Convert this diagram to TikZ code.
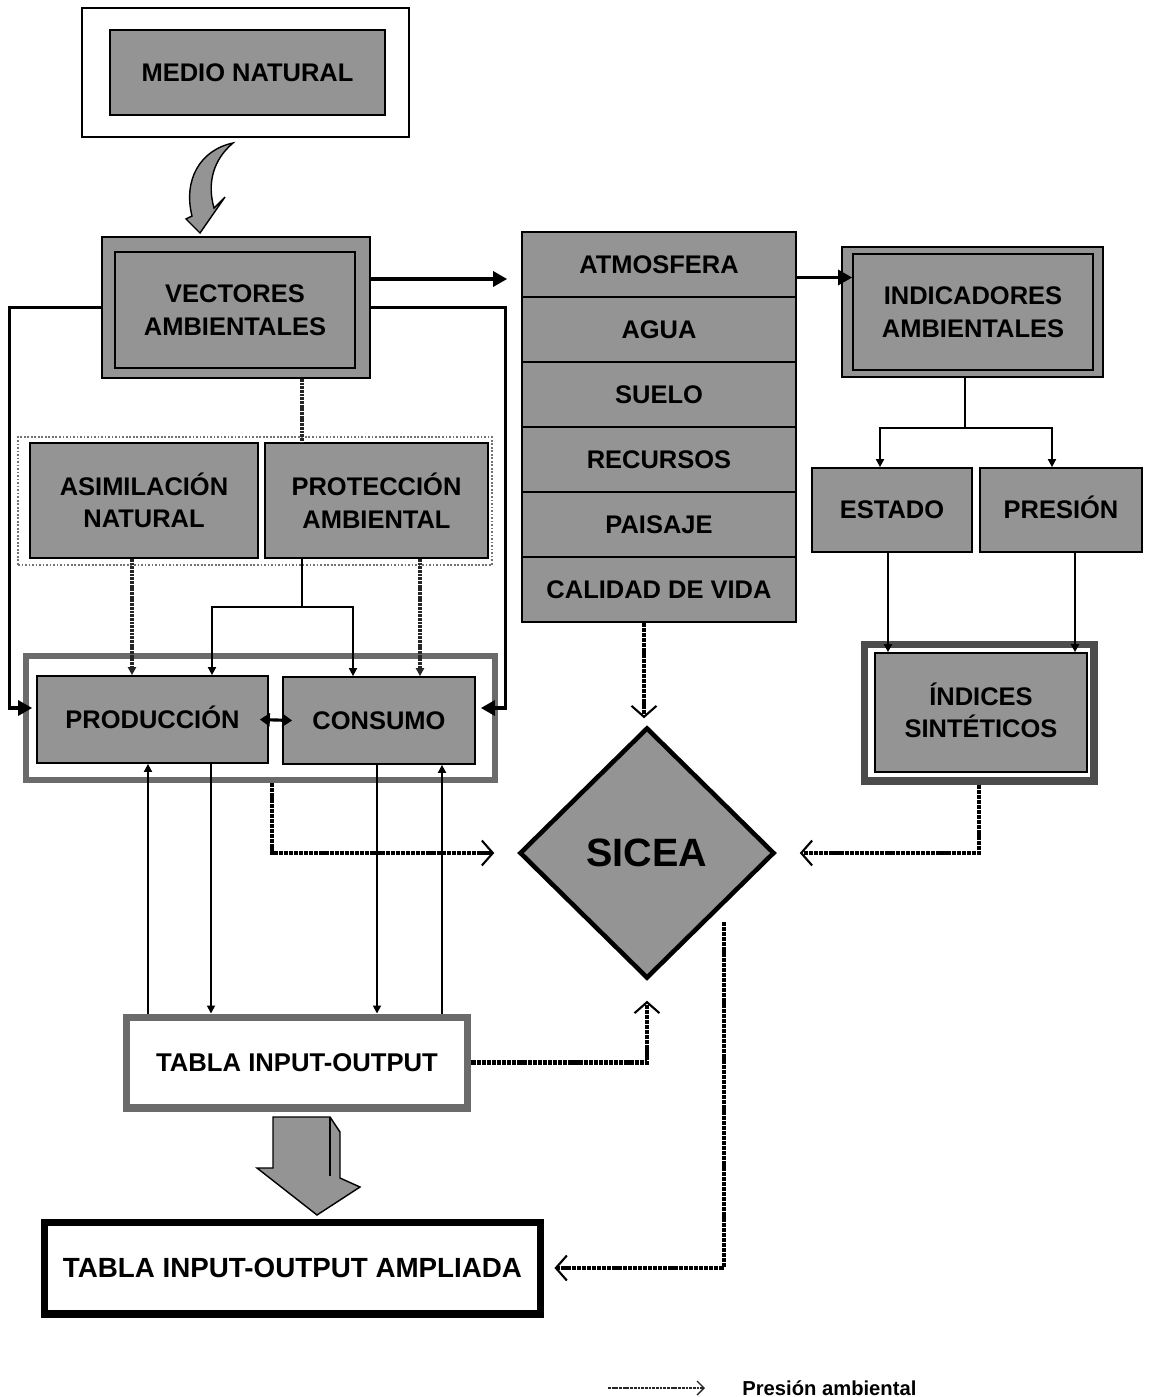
\documentclass[tikz,border=0pt]{standalone}
\usepackage{fontspec}
\setmainfont{Liberation Sans}
\usetikzlibrary{arrows.meta,shapes.geometric}

\definecolor{trama}{gray}{0.58}
\definecolor{tramaborde}{gray}{0.42}

\tikzset{
  caja/.style={draw=black, line width=1pt, fill=trama, align=center, inner sep=0pt,
    font=\fontsize{14.5}{18.5}\selectfont\bfseries},
  marco/.style={draw=black, line width=0.9pt, fill=white, inner sep=0pt},
  bordetrama/.style={draw=tramaborde, line width=3.6pt, fill=white, inner sep=0pt},
  linea/.style={line width=1pt},
  flecha/.style={line width=1.8pt, -{Triangle[length=0.28cm,width=0.3cm]}},
  presion/.style={line width=2.4pt, draw=black, dash pattern=on 2.4pt off 0.5pt,
    -{Straight Barb[length=0.22cm,width=0.5cm,line width=1.2pt]}},
  presionfina/.style={line width=1.8pt, draw=black!85, dash pattern=on 1.6pt off 0.5pt},
}

\begin{document}
\begin{tikzpicture}[x=0.02cm, y=-0.02cm, >={Triangle[length=0.16cm,width=0.16cm]}]
                \useasboundingbox (0,0) rectangle (1152,1397);

                % Medio natural
                \node[marco, minimum width=6.54cm, minimum height=2.58cm] (medioMarco) at (245.5,72.5) {};
                \node[caja, minimum width=5.5cm, minimum height=1.7cm] (medio) at (247.5,72.5) {MEDIO NATURAL};

                % Flecha curva hacia los vectores
                \filldraw[fill=trama, draw=black, line width=0.8pt] (233,143) .. controls (200,150) and (183,180) .. (192,216)
                    -- (186,219) -- (200,233) -- (225,197) -- (214,208) .. controls (207,183) and (213,160) .. (233,143) -- cycle;

                % Vectores ambientales
                \node[caja, minimum width=5.36cm, minimum height=2.82cm] (vectMarco) at (236,307.5) {};
                \node[caja, fill=none, minimum width=4.8cm, minimum height=2.32cm] (vect) at (235,310) {VECTORES\\AMBIENTALES};

                % Asimilacion y proteccion
                \node[draw=black!55, line width=1pt, densely dotted, minimum width=9.48cm, minimum height=2.56cm] (grupo) at (255,501) {};
                \node[caja, minimum width=4.56cm, minimum height=2.3cm] (asim) at (144,500.5) {ASIMILACIÓN\\NATURAL};
                \node[caja, minimum width=4.46cm, minimum height=2.3cm] (prot) at (376.5,500.5) {PROTECCIÓN\\AMBIENTAL};

                % Produccion y consumo
                \node[bordetrama, minimum width=9.38cm, minimum height=2.48cm] (sistema) at (260.5,718) {};
                \node[caja, minimum width=4.62cm, minimum height=1.74cm] (prod) at (152.5,719.5) {PRODUCCI\smash{Ó}N};
                \node[caja, minimum width=3.84cm, minimum height=1.74cm] (cons) at (379,720.5) {CONSUMO};

                % Capas del medio (6 filas)
                \foreach \capa [count=\i] in {ATMOSFERA,AGUA,SUELO,RECURSOS,PAISAJE,CALIDAD DE VIDA}
                    \node[caja, minimum width=5.48cm, minimum height=1.3cm] (capa\i) at (659,{199.5+65*\i}) {\capa};

                % Indicadores
                \node[caja, minimum width=5.22cm, minimum height=2.6cm] (indMarco) at (972.5,312) {};
                \node[caja, fill=none, minimum width=4.8cm, minimum height=2.32cm] (ind) at (973,312) {INDICADORES\\AMBIENTALES};
                \node[caja, minimum width=3.2cm, minimum height=1.68cm] (estado) at (892,510) {ESTADO};
                \node[caja, minimum width=3.24cm, minimum height=1.68cm] (pres) at (1061,510) {PRESI\smash{Ó}N};

                % Indices sinteticos
                \node[bordetrama, draw=black!70, line width=4pt, minimum width=4.6cm, minimum height=2.74cm] (indicesMarco) at (979,712.5) {};
                \node[caja, minimum width=4.24cm, minimum height=2.38cm] (indices) at (981,712.5) {\smash{Í}NDICES\\SINTÉTICOS};

                % SICEA
                \node[diamond, draw=black, line width=2.6pt, fill=trama, minimum width=5.1cm, minimum height=5.02cm, inner sep=0pt,
                    font=\fontsize{22.5}{26}\selectfont\bfseries] (sicea) at (647,853) {SICEA};

                % Tablas input-output
                \node[bordetrama, line width=4pt, minimum width=6.84cm, minimum height=1.82cm,
                    font=\fontsize{14.6}{17}\selectfont\bfseries] (io) at (297,1062.5) {TABLA INPUT-OUTPUT};
                \node[draw=black, line width=4pt, minimum width=9.94cm, minimum height=1.84cm, inner sep=0pt,
                    font=\fontsize{15.8}{18}\selectfont\bfseries] (ampl) at (292.5,1268) {TABLA INPUT-OUTPUT AMPLIADA};

                % Flecha gruesa hacia la tabla ampliada
                \filldraw[fill=trama, draw=black, line width=0.8pt] (273,1117) -- (330,1117) -- (340,1132) -- (340,1178)
                    -- (360,1187) -- (317,1215) -- (257,1168) -- (273,1168) -- cycle;
                \draw[line width=0.8pt] (330,1117) -- (330,1176);

                % Conexiones desde los vectores
                \coordinate (v1) at ([yshift=0.57cm]vectMarco.east);
                \draw[flecha, shorten >=0.28cm] (v1) -- (v1 -| capa1.west);
                \draw[flecha] (vectMarco.west) -- ++(-92,0) |- ([xshift=-0.08cm,yshift=0.23cm]prod.west);
                \draw[flecha] (vectMarco.east) -- ++(135,0) |- ([xshift=0.1cm,yshift=0.25cm]cons.east);
                \coordinate (v2) at ([xshift=1.32cm]vectMarco.south);
                \draw[presionfina] (v2) -- (v2 |- prot.north);

                % Asimilacion y proteccion hacia produccion y consumo
                \coordinate (a1) at ([xshift=-0.24cm]asim.south);
                \draw[presionfina, ->] (a1) -- (a1 |- prod.north);
                \coordinate (rama) at (302,607);
                \draw[linea] ([xshift=-1.49cm]prot.south) -- (rama);
                \draw[linea, ->] (rama) -| ([xshift=1.19cm]prod.north);
                \draw[linea, ->] (rama) -| ([xshift=-0.52cm]cons.north);
                \coordinate (p2) at ([xshift=0.87cm]prot.south);
                \draw[presionfina, ->] (p2) -- (p2 |- cons.north);
                \draw[line width=1.8pt, {Triangle[length=0.2cm,width=0.26cm]}-{Triangle[length=0.2cm,width=0.26cm]}]
                    ([xshift=-0.18cm]prod.east) -- ([xshift=0.2cm]cons.west);

                % Produccion y consumo con la tabla input-output
                \foreach \x/\dir in {148/<-, 211/->}
                    \draw[linea, \dir] (\x,0 |- prod.south) -- (\x,0 |- io.north);
                \foreach \x/\dir in {377/->, 442/<-}
                    \draw[linea, \dir] (\x,0 |- cons.south) -- (\x,0 |- io.north);

                % Presiones hacia SICEA
                \draw[presion, shorten >=0.46cm] ([xshift=0.23cm]sistema.south) |- (sicea.west);
                \coordinate (c6) at ([xshift=-0.3cm]capa6.south);
                \draw[presion, shorten >=0.14cm] (c6) -- (c6 |- sicea.north);
                \draw[presion, shorten >=0.4cm] (io.east) -| (sicea.south);
                \draw[presion, shorten >=0.46cm] (indicesMarco.south) |- (sicea.east);
                \coordinate (s1) at ([xshift=0.24cm,yshift=-0.1cm]sicea.south east);
                \draw[presion, shorten >=0.2cm] (s1) |- (ampl.east);

                % Capas hacia indicadores
                \coordinate (c1) at ([yshift=-0.26cm]capa1.east);
                \draw[flecha] (c1) -- (c1 -| ind.west);
                \coordinate (rama2) at ([xshift=-0.15cm,yshift=-1cm]indMarco.south);
                \draw[linea] ([xshift=-0.15cm]indMarco.south) -- (rama2);
                \draw[linea, ->] (rama2) -| ([xshift=-0.24cm]estado.north);
                \draw[linea, ->] (rama2) -| ([xshift=-0.18cm]pres.north);
                \coordinate (e1) at ([xshift=-0.08cm]estado.south);
                \draw[linea, ->] (e1) -- (e1 |- indices.north);
                \coordinate (e2) at ([xshift=0.28cm]pres.south);
                \draw[linea, ->] (e2) -- (e2 |- indices.north);

                % Leyenda
                \node[anchor=west, inner sep=0pt, font=\fontsize{11.5}{13}\selectfont\bfseries] (leyenda) at (742,1388) {Presión ambiental};
                \draw[presionfina, line width=1.3pt, -{Straight Barb[length=0.14cm,width=0.28cm,line width=0.8pt]}]
                    ([xshift=-2.68cm]leyenda.west) -- ([xshift=-0.74cm]leyenda.west);
            \end{tikzpicture}
\end{document}
